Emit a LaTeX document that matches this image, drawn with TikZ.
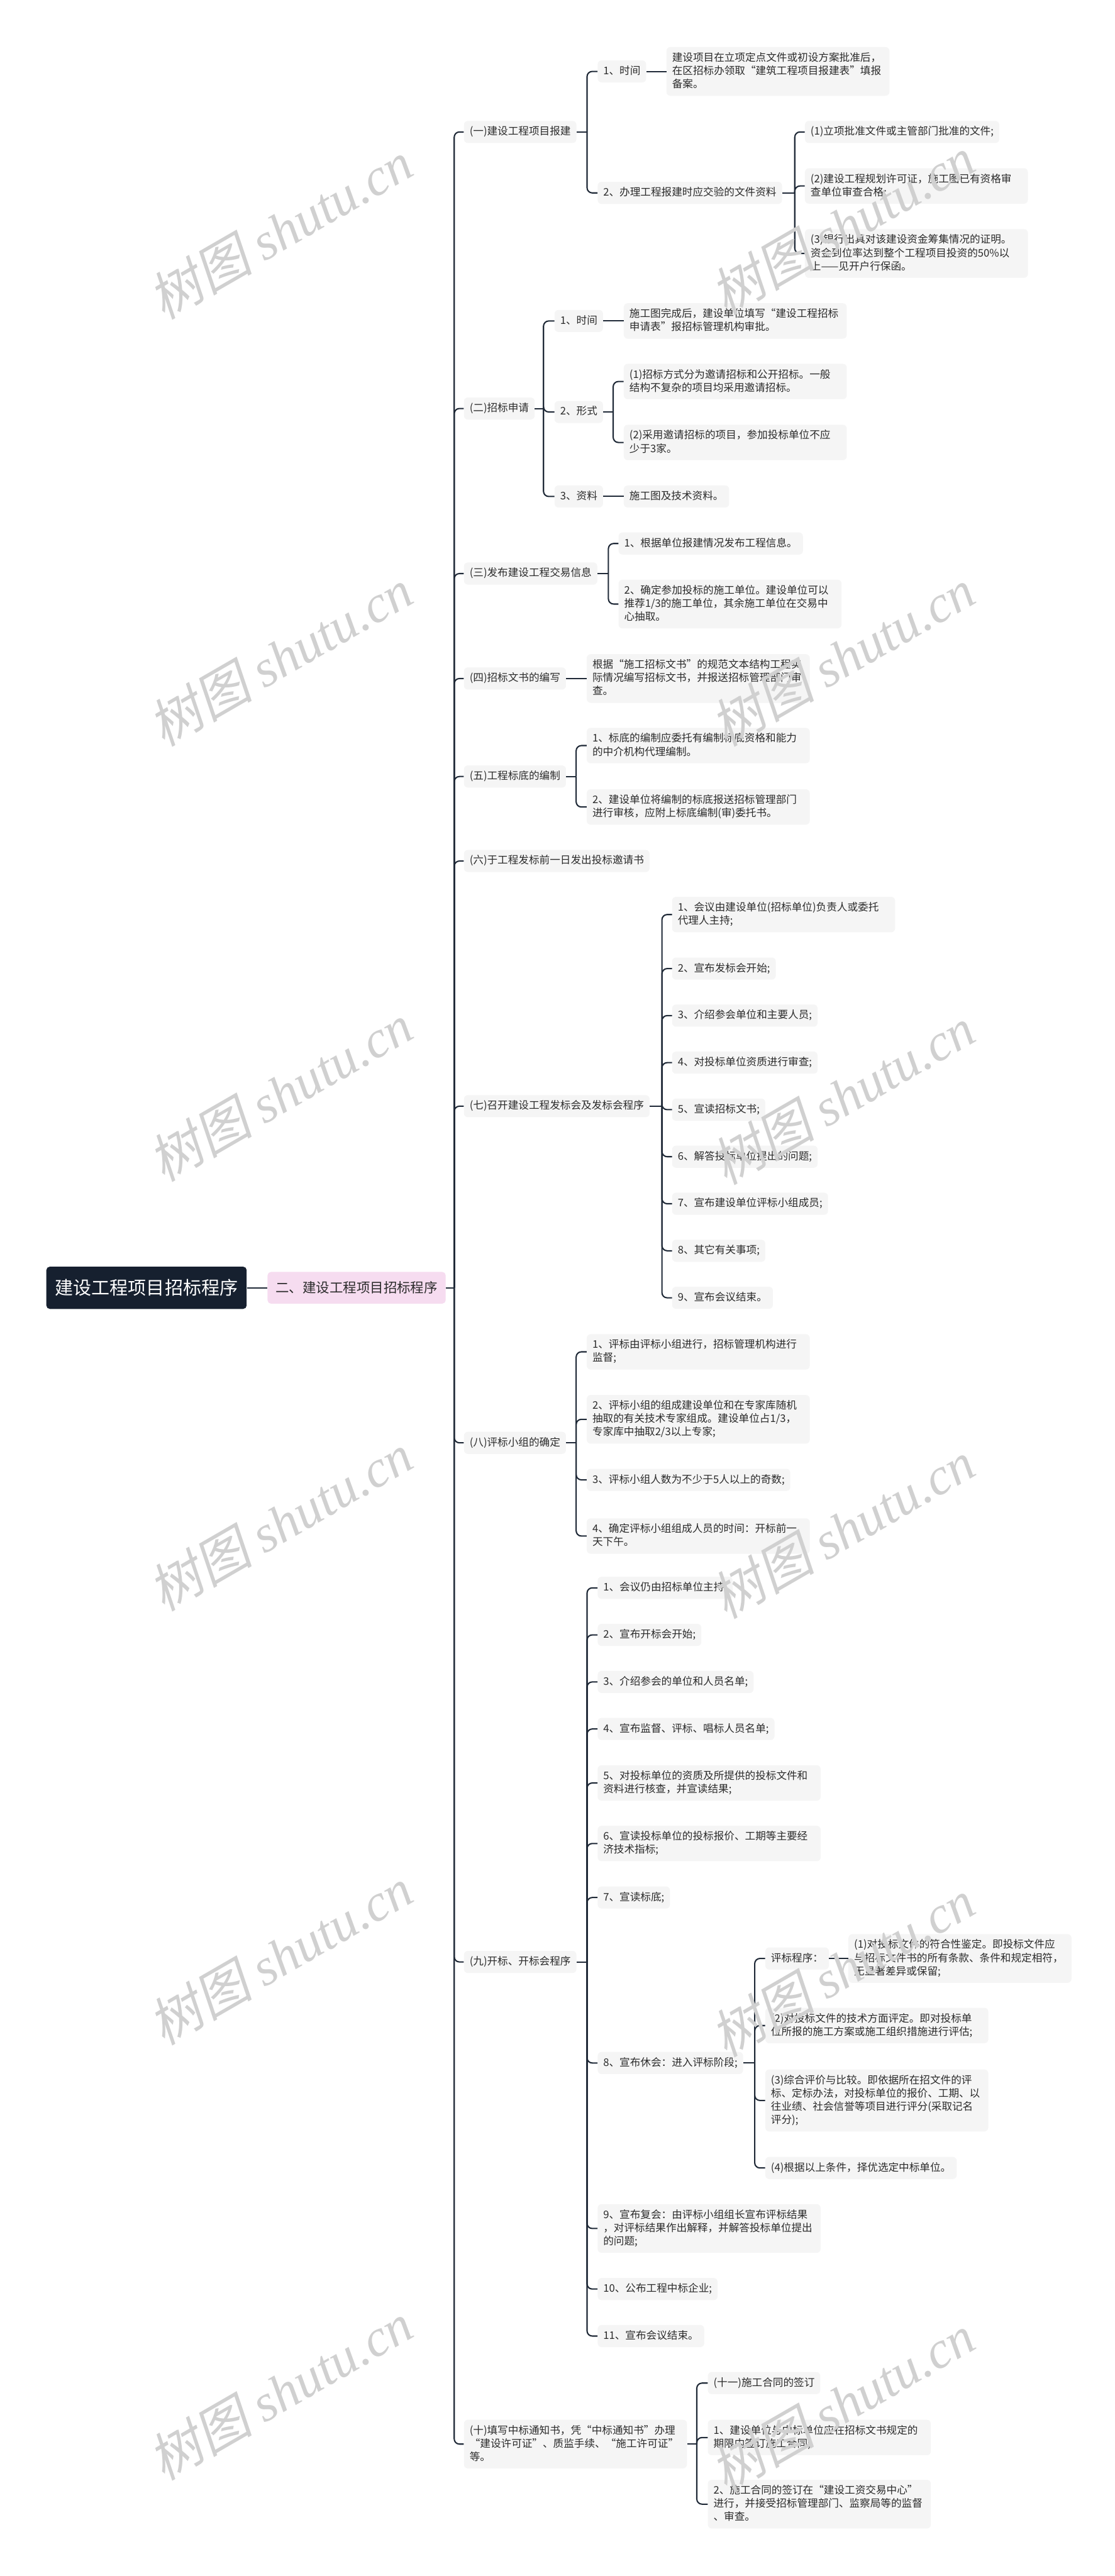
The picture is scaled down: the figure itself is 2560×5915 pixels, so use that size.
\documentclass[tikz,border=0pt]{standalone}
\usepackage{fontspec}
\setmainfont{Noto Sans CJK SC}
\newfontfamily\wmcjk[FakeSlant=0.2]{Noto Sans CJK SC}
\newfontfamily\wmlat{Liberation Serif}
\usetikzlibrary{calc}
\definecolor{boxfill}{HTML}{F5F5F5}
\definecolor{txt}{HTML}{2B2B2B}
\definecolor{conncol}{HTML}{1F2937}
\definecolor{rootfill}{HTML}{16202F}
\definecolor{mainfill}{HTML}{F6DCF0}
\definecolor{wm}{HTML}{D0D0D0}
\newcommand\mystrut{\rule[-3pt]{0pt}{12.25pt}}
\begin{document}
\begin{tikzpicture}[x=0.5pt,y=-0.5pt,
  box/.style={fill=boxfill, text=txt, rounded corners=4.5pt, inner xsep=6.5pt, inner ysep=6.1pt,
    font=\fontsize{12}{15.25}\selectfont, execute at begin node=\mystrut, execute at end node=\mystrut, anchor=west},
  wide/.style={box, text width=243pt, align=left},
  rootbox/.style={fill=rootfill, text=white, rounded corners=4pt, inner xsep=10pt, minimum height=48.5pt,
    font=\fontsize{21}{25}\selectfont, anchor=west},
  mainbox/.style={fill=mainfill, text=txt, rounded corners=4pt, inner xsep=9.25pt, minimum height=36.5pt,
    font=\fontsize{15.5}{18}\selectfont, anchor=west},
  conn/.style={draw=conncol, line width=1.5pt, rounded corners=6pt},
  wmk/.style={text=wm, rotate=30, inner sep=0pt, font=\fontsize{60}{60}\selectfont}]
\useasboundingbox (0,0) rectangle (2560,5915);
\fill[white] (0,0) rectangle (2560,5915);

% root and main
\node[rootbox] (root) at (106,2957) {建设工程项目招标程序};
\node[mainbox] (main) at (614,2957) {二、建设工程项目招标程序};
\coordinate (J0) at (1043,2957);

% sections
\node[box] (S1) at (1065,303) {(一)建设工程项目报建};
\node[box] (S2) at (1065,938) {(二)招标申请};
\node[box] (S3) at (1065,1317) {(三)发布建设工程交易信息};
\node[box] (S4) at (1065,1558) {(四)招标文书的编写};
\node[box] (S5) at (1065,1783) {(五)工程标底的编制};
\node[box] (S6) at (1065,1977) {(六)于工程发标前一日发出投标邀请书};
\node[box] (S7) at (1065,2540) {(七)召开建设工程发标会及发标会程序};
\node[box] (S8) at (1065,3313) {(八)评标小组的确定};
\node[box] (S9) at (1065,4505) {(九)开标、开标会程序};
\node[wide] (S10) at (1065,5612) {(十)填写中标通知书，凭“中标通知书”办理\\“建设许可证”、质监手续、“施工许可证”\\等。};

% (一)
\coordinate (J1) at (1348,303);
\node[box] (S1a) at (1372,164) {1、时间};
\node[wide] (T1a) at (1530,164) {建设项目在立项定点文件或初设方案批准后，\\在区招标办领取“建筑工程项目报建表”填报\\备案。};
\node[box] (S1b) at (1372,443) {2、办理工程报建时应交验的文件资料};
\coordinate (J1b) at (1825,443);
\node[box] (T1b1) at (1848,303) {(1)立项批准文件或主管部门批准的文件;};
\node[wide] (T1b2) at (1848,427) {(2)建设工程规划许可证，施工图已有资格审\\查单位审查合格;};
\node[wide] (T1b3) at (1848,582) {(3)银行出具对该建设资金筹集情况的证明。\\资金到位率达到整个工程项目投资的50\%以\\上——见开户行保函。};

% (二)
\coordinate (J2) at (1248,938);
\node[box] (S2a) at (1273,737) {1、时间};
\node[wide] (T2a) at (1432,737) {施工图完成后，建设单位填写“建设工程招标\\申请表”报招标管理机构审批。};
\node[box] (S2b) at (1273,946) {2、形式};
\coordinate (J2b) at (1408,946);
\node[wide] (T2b1) at (1432,876) {(1)招标方式分为邀请招标和公开招标。一般\\结构不复杂的项目均采用邀请招标。};
\node[wide] (T2b2) at (1432,1016) {(2)采用邀请招标的项目，参加投标单位不应\\少于3家。};
\node[box] (S2c) at (1273,1140) {3、资料};
\node[box] (T2c) at (1432,1140) {施工图及技术资料。};

% (三)
\coordinate (J3) at (1397,1317);
\node[box] (T3a) at (1420,1248) {1、根据单位报建情况发布工程信息。};
\node[wide] (T3b) at (1420,1387) {2、确定参加投标的施工单位。建设单位可以\\推荐1/3的施工单位，其余施工单位在交易中\\心抽取。};

% (四)
\node[wide] (T4) at (1347,1558) {根据“施工招标文书”的规范文本结构工程实\\际情况编写招标文书，并报送招标管理部门审\\查。};

% (五)
\coordinate (J5) at (1323,1783);
\node[wide] (T5a) at (1347,1712) {1、标底的编制应委托有编制标底资格和能力\\的中介机构代理编制。};
\node[wide] (T5b) at (1347,1853) {2、建设单位将编制的标底报送招标管理部门\\进行审核，应附上标底编制(审)委托书。};

% (七)
\coordinate (J7) at (1520,2540);
\node[wide] (T7a) at (1543,2100) {1、会议由建设单位(招标单位)负责人或委托\\代理人主持;};
\node[box] (T7b) at (1543,2224) {2、宣布发标会开始;};
\node[box] (T7c) at (1543,2332) {3、介绍参会单位和主要人员;};
\node[box] (T7d) at (1543,2440) {4、对投标单位资质进行审查;};
\node[box] (T7e) at (1543,2548) {5、宣读招标文书;};
\node[box] (T7f) at (1543,2656) {6、解答投标单位提出的问题;};
\node[box] (T7g) at (1543,2764) {7、宣布建设单位评标小组成员;};
\node[box] (T7h) at (1543,2872) {8、其它有关事项;};
\node[box] (T7i) at (1543,2980) {9、宣布会议结束。};

% (八)
\coordinate (J8) at (1323,3313);
\node[wide] (T8a) at (1347,3104) {1、评标由评标小组进行，招标管理机构进行\\监督;};
\node[wide] (T8b) at (1347,3259) {2、评标小组的组成建设单位和在专家库随机\\抽取的有关技术专家组成。建设单位占1/3，\\专家库中抽取2/3以上专家;};
\node[box] (T8c) at (1347,3398) {3、评标小组人数为不少于5人以上的奇数;};
\node[wide] (T8d) at (1347,3527) {4、确定评标小组组成人员的时间：开标前一\\天下午。};

% (九)
\coordinate (J9) at (1348,4505);
\node[box] (T9a) at (1372,3646) {1、会议仍由招标单位主持;};
\node[box] (T9b) at (1372,3754) {2、宣布开标会开始;};
\node[box] (T9c) at (1372,3862) {3、介绍参会的单位和人员名单;};
\node[box] (T9d) at (1372,3970) {4、宣布监督、评标、唱标人员名单;};
\node[wide] (T9e) at (1372,4094) {5、对投标单位的资质及所提供的投标文件和\\资料进行核查，并宣读结果;};
\node[wide] (T9f) at (1372,4233) {6、宣读投标单位的投标报价、工期等主要经\\济技术指标;};
\node[box] (T9g) at (1372,4357) {7、宣读标底;};
\node[box] (T9h) at (1372,4737) {8、宣布休会：进入评标阶段;};
\node[wide] (T9i) at (1372,5117) {9、宣布复会：由评标小组组长宣布评标结果\\，对评标结果作出解释，并解答投标单位提出\\的问题;};
\node[box] (T9j) at (1372,5256) {10、公布工程中标企业;};
\node[box] (T9k) at (1372,5364) {11、宣布会议结束。};
\coordinate (J9h) at (1733,4737);
\node[box] (P0) at (1757,4497) {评标程序：};
\node[wide] (P1) at (1948,4497) {(1)对投标文件的符合性鉴定。即投标文件应\\与招标文件书的所有条款、条件和规定相符，\\无显著差异或保留;};
\node[wide] (P2) at (1757,4651) {(2)对投标文件的技术方面评定。即对投标单\\位所报的施工方案或施工组织措施进行评估;};
\node[wide] (P3) at (1757,4823) {(3)综合评价与比较。即依据所在招文件的评\\标、定标办法，对投标单位的报价、工期、以\\往业绩、社会信誉等项目进行评分(采取记名\\评分);};
\node[box] (P4) at (1757,4978) {(4)根据以上条件，择优选定中标单位。};

% (十)
\coordinate (J10) at (1600,5612);
\node[box] (T10a) at (1625,5472) {(十一)施工合同的签订};
\node[wide] (T10b) at (1625,5597) {1、建设单位与中标单位应在招标文书规定的\\期限内签订施工合同;};
\node[wide] (T10c) at (1625,5750) {2、施工合同的签订在“建设工资交易中心”\\进行，并接受招标管理部门、监察局等的监督\\、审查。};

% connectors
\draw[conn] (root.east) -- (main.west);
\draw[conn] (main.east) -- (J0);
\foreach \c in {S1,S2,S3,S4,S5,S6,S7,S8,S9,S10} \draw[conn] (J0) |- (\c.west);

\draw[conn] (S1.east) -- (J1);
\foreach \c in {S1a,S1b} \draw[conn] (J1) |- (\c.west);
\draw[conn] (S1a.east) -- (T1a.west);
\draw[conn] (S1b.east) -- (J1b);
\foreach \c in {T1b1,T1b2,T1b3} \draw[conn] (J1b) |- (\c.west);

\draw[conn] (S2.east) -- (J2);
\foreach \c in {S2a,S2b,S2c} \draw[conn] (J2) |- (\c.west);
\draw[conn] (S2a.east) -- (T2a.west);
\draw[conn] (S2c.east) -- (T2c.west);
\draw[conn] (S2b.east) -- (J2b);
\foreach \c in {T2b1,T2b2} \draw[conn] (J2b) |- (\c.west);

\draw[conn] (S3.east) -- (J3);
\foreach \c in {T3a,T3b} \draw[conn] (J3) |- (\c.west);

\draw[conn] (S4.east) -- (T4.west);

\draw[conn] (S5.east) -- (J5);
\foreach \c in {T5a,T5b} \draw[conn] (J5) |- (\c.west);

\draw[conn] (S7.east) -- (J7);
\foreach \c in {T7a,T7b,T7c,T7d,T7e,T7f,T7g,T7h,T7i} \draw[conn] (J7) |- (\c.west);

\draw[conn] (S8.east) -- (J8);
\foreach \c in {T8a,T8b,T8c,T8d} \draw[conn] (J8) |- (\c.west);

\draw[conn] (S9.east) -- (J9);
\foreach \c in {T9a,T9b,T9c,T9d,T9e,T9f,T9g,T9h,T9i,T9j,T9k} \draw[conn] (J9) |- (\c.west);
\draw[conn] (T9h.east) -- (J9h);
\foreach \c in {P0,P2,P3,P4} \draw[conn] (J9h) |- (\c.west);
\draw[conn] (P0.east) -- (P1.west);

\draw[conn] (S10.east) -- (J10);
\foreach \c in {T10a,T10b,T10c} \draw[conn] (J10) |- (\c.west);

% watermarks
\foreach \yy [count=\i] in {528,1509,2509,3495,4491,5491}
  \node[wmk] (wl\i) at (644,\yy) {\wmcjk 树图 \wmlat\itshape shutu.cn};
\foreach \yy [count=\i] in {518,1509,2516,3512,4519,5518}
  \node[wmk] (wr\i) at (1935,\yy) {\wmcjk 树图 \wmlat\itshape shutu.cn};
\end{tikzpicture}
\end{document}
